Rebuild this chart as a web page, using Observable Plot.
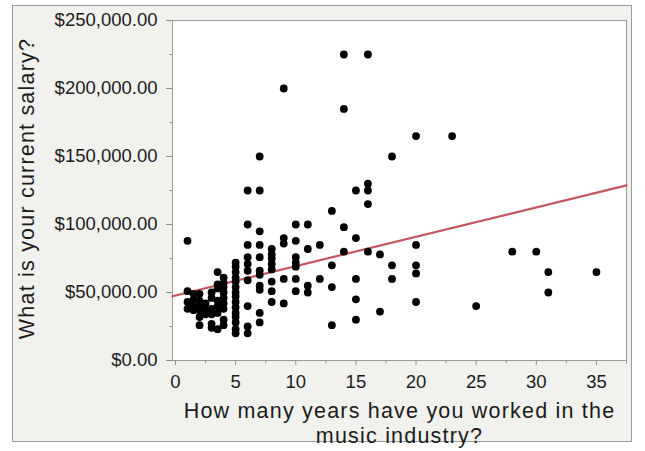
<!DOCTYPE html>
<html>
<head>
<meta charset="utf-8">
<script src="https://cdn.jsdelivr.net/npm/d3@7"></script>
<script src="https://cdn.jsdelivr.net/npm/@observablehq/plot@0.6"></script>
<style>
  html, body { margin: 0; padding: 0; background: #ffffff; }
  #panel {
    position: absolute; left: 12px; top: 5px; width: 620px; height: 437px;
    box-sizing: border-box; background: #f1f1ee; border: 1px solid #9c9c9c;
  }
  #chart { position: absolute; left: 0; top: 0; }
</style>
</head>
<body>
<div id="panel"></div>
<div id="chart"></div>
<script>
// Years in the music industry, one entry per response column
const yearsWorked = [1, 1.5, 2, 2.5, 3, 3.5, 4, 5, 6, 7, 8, 9, 10, 11, 12, 13, 14, 15, 16, 17, 18, 20, 23, 25, 28, 30, 31, 35];

// Reported salaries (thousands of dollars) for each entry of yearsWorked
const salaryThousands = [
  [88, 51, 43, 38],
  [49, 45, 40, 37],
  [49, 44, 40, 37, 32, 26],
  [42, 37, 34],
  [50, 46, 38, 34, 27, 24],
  [65, 56, 53, 44, 40, 35, 23],
  [61, 57, 54, 50, 46, 42, 38, 30, 26],
  [72, 69, 65, 61, 58, 54, 50, 47, 43, 39, 35, 32, 28, 23, 20],
  [125, 100, 85, 76, 71, 66, 59, 40, 25, 20],
  [150, 125, 95, 85, 76, 66, 63, 55, 52, 35, 28],
  [82, 78, 75, 71, 67, 58, 51, 43],
  [200, 90, 86, 60, 42],
  [100, 88, 76, 72, 69, 60, 51],
  [100, 82, 55, 50],
  [85, 60],
  [110, 70, 54, 26],
  [225, 185, 98, 80],
  [125, 90, 60, 45, 30],
  [225, 130, 125, 115, 80],
  [78, 36],
  [150, 70, 60],
  [165, 85, 70, 64, 43],
  [165],
  [40],
  [80],
  [80],
  [65, 50],
  [65]
];

// Least-squares fit: salary = intercept + slope * years
const fitIntercept = 47800;
const fitSlope = 2160;

// Axis ticks
const xMajorTicks = [0, 5, 10, 15, 20, 25, 30, 35];
const xMinorTicks = [2.5, 7.5, 12.5, 17.5, 22.5, 27.5, 32.5, 37.5];
const yMajorTicks = [0, 50000, 100000, 150000, 200000, 250000];
const yMinorTicks = [25000, 75000, 125000, 175000, 225000];

const xTitle = "How many years have you worked in the\nmusic industry?";
const yTitle = "What is your current salary?";

const responses = yearsWorked.flatMap((yr, i) =>
  salaryThousands[i].map(k => ({years: yr, salary: k * 1000}))
);

const xDomain = [-0.25, 37.5];
const yDomain = [0, 250000];
const fitLine = xDomain.map(x => ({years: x, salary: fitIntercept + fitSlope * x}));

// Short minor tick glyphs hanging outside the frame
const tickLeft = {draw(ctx) { ctx.moveTo(-3, 0); ctx.lineTo(0, 0); }};
const tickDown = {draw(ctx) { ctx.moveTo(0, 0); ctx.lineTo(0, 3); }};

const font = "'Liberation Sans', Arial, Helvetica, sans-serif";
const axisGray = "#8e8e8e";
const inkColor = "#1c1c1c";

const chart = Plot.plot({
  width: 645,
  height: 451,
  marginLeft: 172,
  marginRight: 19,
  marginTop: 20,
  marginBottom: 91,
  style: {fontFamily: font, fontSize: "18.5px", color: inkColor, background: "transparent", overflow: "visible"},
  x: {domain: xDomain, ticks: xMajorTicks, tickSize: 5, tickPadding: 9, tickFormat: d3.format("d"), label: null},
  y: {domain: yDomain, ticks: yMajorTicks, tickSize: 6, tickPadding: 9, tickFormat: d3.format("$,.2f"), label: null},
  marks: [
    Plot.frame({fill: "white", stroke: "none"}),
    Plot.dot(yMinorTicks, {x: () => xDomain[0], y: d => d, symbol: tickLeft, r: 3, stroke: axisGray, fill: "none", strokeWidth: 1}),
    Plot.dot(xMinorTicks, {x: d => d, y: () => yDomain[0], symbol: tickDown, r: 3, stroke: axisGray, fill: "none", strokeWidth: 1}),
    Plot.frame({stroke: "#9a9a9a"}),
    Plot.line(fitLine, {x: "years", y: "salary", stroke: "#c55560", strokeWidth: 2.2}),
    Plot.dot(responses, {x: "years", y: "salary", r: 3.9, fill: "black", stroke: "none"}),
    Plot.text([xTitle], {text: d => d, frameAnchor: "bottom", lineAnchor: "top", dy: 40, fontSize: 21.5, lineHeight: 1.16, fill: inkColor}),
    Plot.text([yTitle], {text: d => d, frameAnchor: "left", textAnchor: "middle", rotate: -90, dx: -145, dy: -2, fontSize: 21.5, fill: inkColor})
  ]
});

// Gray tick lines, dark labels
d3.select(chart).selectAll('g[aria-label="x-axis"] line, g[aria-label="y-axis"] line').attr("stroke", axisGray);
d3.select(chart).selectAll('g[aria-label="x-axis tick"] path, g[aria-label="y-axis tick"] path').attr("stroke", axisGray);
d3.select(chart).selectAll('g[aria-label="text"] text').style("letter-spacing", "1.2px");
document.getElementById("chart").appendChild(chart);
</script>
</body>
</html>
